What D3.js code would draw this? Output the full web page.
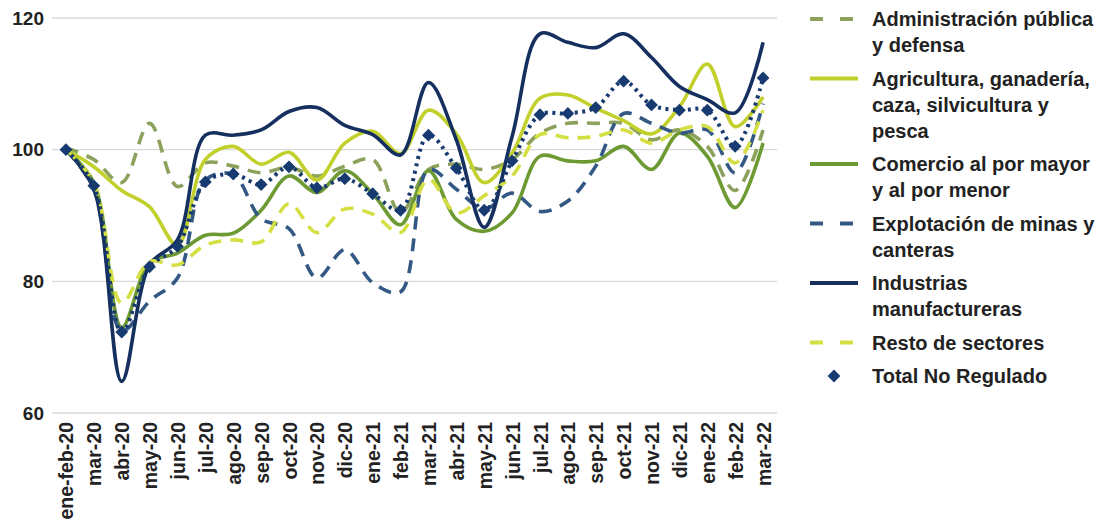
<!DOCTYPE html>
<html>
<head>
<meta charset="utf-8">
<script src="https://cdn.jsdelivr.net/npm/d3@7"></script>
<style>
  html, body { margin: 0; padding: 0; background: #ffffff; }
  svg { display: block; }
  text { font-family: "Liberation Sans", Arial, sans-serif; font-weight: bold; fill: #222222; }
</style>
</head>
<body>
<svg id="chart" width="1105" height="525"></svg>
<script>
const categories = ["ene-feb-20","mar-20","abr-20","may-20","jun-20","jul-20","ago-20","sep-20","oct-20","nov-20","dic-20",
  "ene-21","feb-21","mar-21","abr-21","may-21","jun-21","jul-21","ago-21","sep-21","oct-21","nov-21","dic-21",
  "ene-22","feb-22","mar-22"];

const administracion = [100.3, 98.5, 95, 104, 94.4, 98, 97.5, 96.5, 97.3, 96, 97.5, 98.5, 90.5, 97, 97.8, 97, 98.5, 102.5, 104, 104, 104, 101.5, 103, 100.5, 93.8, 103];
const agricultura    = [100, 97.4, 93.8, 91.3, 85.5, 98.5, 100.5, 97.8, 99.6, 95.4, 101, 102.8, 99.4, 106, 102.4, 95, 99.5, 107.8, 108.3, 106.3, 104.4, 102.4, 106.5, 113, 103.5, 108];
const comercio       = [100, 95, 73, 82.8, 84.3, 87, 87.3, 90.8, 96, 93.5, 96.8, 93.3, 88.6, 96.8, 89.4, 87.6, 90.4, 99, 98.3, 98.3, 100.5, 97, 102.5, 99, 91.2, 101];
const explotacion    = [100, 94, 72.5, 77, 80.5, 95.4, 96.2, 89.5, 88, 80.5, 84.8, 79.8, 78.4, 97, 94, 91, 93.4, 90.6, 92.2, 97.5, 105.5, 104, 102.5, 103, 96.5, 107];
const industrias     = [100, 94, 64.8, 82.5, 86.3, 102.2, 102.2, 103, 105.8, 106.4, 103.7, 102.3, 99.2, 110.2, 101.5, 88.2, 102, 117.6, 116.3, 115.5, 117.6, 114, 109.6, 107.6, 105.6, 116.3];
const resto          = [100, 95, 76.7, 83, 82.5, 85.5, 86.3, 86, 91.8, 87.4, 91, 90.2, 87.4, 95.5, 90.4, 93, 96, 102.3, 101.8, 102, 103, 101, 103, 103.5, 98, 106];
const total          = [100, 94.5, 72.3, 82.2, 85.3, 95.1, 96.3, 94.7, 97.4, 94.2, 95.6, 93.3, 90.8, 102.2, 97.2, 90.8, 98.3, 105.3, 105.5, 106.4, 110.4, 106.8, 106, 106, 100.5, 110.9];

const yTicks = [60, 80, 100, 120];

const seriesNames = [
  ["Administración pública", "y defensa"],
  ["Agricultura, ganadería,", "caza, silvicultura y", "pesca"],
  ["Comercio al por mayor", "y al por menor"],
  ["Explotación de minas y", "canteras"],
  ["Industrias", "manufactureras"],
  ["Resto de sectores"],
  ["Total No Regulado"]
];

const series = [
  { name: seriesNames[0], values: administracion, color: "#8ca25c", dash: "13,9", legendDash: "13,17" },
  { name: seriesNames[1], values: agricultura,    color: "#c2d02c", dash: null },
  { name: seriesNames[2], values: comercio,       color: "#6e9a33", dash: null },
  { name: seriesNames[3], values: explotacion,    color: "#345884", dash: "13,9", legendDash: "13,17" },
  { name: seriesNames[4], values: industrias,     color: "#152f5e", dash: null },
  { name: seriesNames[5], values: resto,          color: "#d3df42", dash: "13,9", legendDash: "13,17" },
  { name: seriesNames[6], values: total,          color: "#173a70", dash: "3,4.5", marker: true }
];

const svg = d3.select("#chart");

const x = d3.scalePoint().domain(categories).range([52, 777]).padding(0.5);
const y = d3.scaleLinear().domain([60, 120]).range([413, 18]);

// gridlines
svg.append("g").selectAll("line").data(yTicks).join("line")
  .attr("x1", 52).attr("x2", 777)
  .attr("y1", d => y(d)).attr("y2", d => y(d))
  .attr("stroke", "#d9d9d9").attr("stroke-width", 1.4);

// y axis
const yAxis = svg.append("g").attr("transform", "translate(44,0)")
  .call(d3.axisLeft(y).tickValues(yTicks).tickSize(0).tickPadding(0));
yAxis.select(".domain").remove();
yAxis.selectAll("text").attr("font-size", 19).style("font-family", "'Liberation Sans', Arial, sans-serif").style("font-weight", "bold").attr("fill", "#222");

// x axis
const xAxis = svg.append("g").attr("transform", "translate(0,422)")
  .call(d3.axisBottom(x).tickSize(0).tickPadding(0));
xAxis.select(".domain").remove();
xAxis.selectAll("text")
  .attr("font-size", 19.5)
  .style("font-family", "'Liberation Sans', Arial, sans-serif").style("font-weight", "bold")
  .attr("fill", "#222")
  .attr("text-anchor", "end")
  .attr("transform", "rotate(-90)")
  .attr("x", 0).attr("y", 0).attr("dy", "0.36em");

const line = d3.line()
  .x((d, i) => x(categories[i]))
  .y(d => y(d))
  .curve(d3.curveCatmullRom.alpha(0.5));

const lines = svg.append("g");
series.forEach(s => {
  lines.append("path")
    .datum(s.values)
    .attr("d", line)
    .attr("fill", "none")
    .attr("stroke", s.color)
    .attr("stroke-width", s.marker ? 4 : 3.6)
    .attr("stroke-dasharray", s.dash)
    .attr("stroke-linecap", "butt");
  if (s.marker) {
    lines.append("g").selectAll("path").data(s.values).join("path")
      .attr("d", d3.symbol().type(d3.symbolSquare).size(82))
      .attr("transform", (d, i) => `translate(${x(categories[i])},${y(d)}) rotate(45)`)
      .attr("fill", s.color);
  }
});

// legend
const legend = svg.append("g");
let ly = 19;
series.forEach(s => {
  const g = legend.append("g");
  if (s.marker) {
    g.append("path")
      .attr("d", d3.symbol().type(d3.symbolSquare).size(82))
      .attr("transform", `translate(834,${ly}) rotate(45)`)
      .attr("fill", s.color);
  } else {
    g.append("line")
      .attr("x1", 810).attr("x2", 858).attr("y1", ly).attr("y2", ly)
      .attr("stroke", s.color).attr("stroke-width", 4.2)
      .attr("stroke-dasharray", s.legendDash || null);
  }
  s.name.forEach((t, k) => {
    g.append("text")
      .attr("x", 872).attr("y", ly + k * 26)
      .attr("dy", "0.36em")
      .attr("font-size", 20)
      .attr("fill", "#222")
      .text(t);
  });
  ly += s.name.length * 26 + 7.5;
});
</script>
</body>
</html>
